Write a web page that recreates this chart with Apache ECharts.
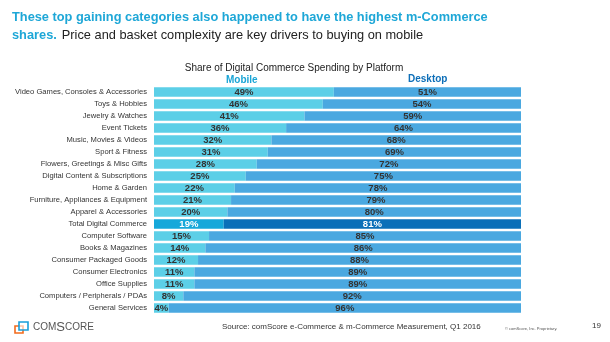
<!DOCTYPE html>
<html>
<head>
<meta charset="utf-8">
<script src="https://cdn.jsdelivr.net/npm/echarts@6/dist/echarts.min.js"></script>
<style>
html,body{margin:0;padding:0;background:#fff;}
#chart{width:610px;height:342px;}
</style>
</head>
<body>
<div id="chart"></div>
<script>
const categories = [
  "Video Games, Consoles & Accessories",
  "Toys & Hobbies",
  "Jewelry & Watches",
  "Event Tickets",
  "Music, Movies & Videos",
  "Sport & Fitness",
  "Flowers, Greetings & Misc Gifts",
  "Digital Content & Subscriptions",
  "Home & Garden",
  "Furniture, Appliances & Equipment",
  "Apparel & Accessories",
  "Total Digital Commerce",
  "Computer Software",
  "Books & Magazines",
  "Consumer Packaged Goods",
  "Consumer Electronics",
  "Office Supplies",
  "Computers / Peripherals / PDAs",
  "General Services"
];
const mobile = [49, 46, 41, 36, 32, 31, 28, 25, 22, 21, 20, 19, 15, 14, 12, 11, 11, 8, 4];
const desktop = [51, 54, 59, 64, 68, 69, 72, 75, 78, 79, 80, 81, 85, 86, 88, 89, 89, 92, 96];
const highlight = "Total Digital Commerce";

const chart = echarts.init(document.getElementById('chart'), null, {renderer: 'canvas'});

const font = 'Liberation Sans, Arial, sans-serif';

function build(values, hiColor, hiLabel) {
  return values.map((v, i) => {
    if (categories[i] === highlight) {
      return {value: v, itemStyle: {color: hiColor}, label: {color: hiLabel}};
    }
    return v;
  });
}

chart.setOption({
  animation: false,
  textStyle: {fontFamily: font},
  title: [
    {
      left: 7, top: 3,
      text: '{b|These top gaining categories also happened to have the highest m-Commerce}\n{b|shares.} {n|Price and basket complexity are key drivers to buying on mobile}',
      textStyle: {
        fontFamily: font,
        rich: {
          b: {fontSize: 12.8, fontWeight: 'bold', color: '#1ea7d7', fontFamily: font, lineHeight: 18},
          n: {fontSize: 12.8, fontWeight: 'normal', color: '#222', fontFamily: font, lineHeight: 18}
        }
      }
    },
    {
      left: 289, top: 58, textAlign: 'center',
      text: 'Share of Digital Commerce Spending by Platform',
      textStyle: {fontSize: 10, fontWeight: 'normal', color: '#222', fontFamily: font}
    }
  ],
  grid: {left: 154, right: 89, top: 86, height: 228, containLabel: false},
  xAxis: {
    type: 'value', min: 0, max: 100, show: false
  },
  yAxis: {
    type: 'category', data: categories, inverse: true,
    axisLine: {show: false}, axisTick: {show: false},
    axisLabel: {fontSize: 7.6, color: '#333', margin: 7, fontFamily: font}
  },
  series: [
    {
      name: 'Mobile', type: 'bar', stack: 'p', barWidth: 9.5,
      data: build(mobile, '#15a8da', '#ffffff'),
      itemStyle: {color: '#5ccfe7'},
      label: {show: true, position: 'inside', formatter: '{c}%', fontSize: 9.5, fontWeight: 'bold', color: '#333', fontFamily: font}
    },
    {
      name: 'Desktop', type: 'bar', stack: 'p', barWidth: 9.5,
      data: build(desktop, '#0a6fb8', '#ffffff'),
      itemStyle: {color: '#4aa8e0'},
      label: {show: true, position: 'inside', formatter: '{c}%', fontSize: 9.5, fontWeight: 'bold', color: '#333', fontFamily: font}
    }
  ],
  graphic: [
    {type: 'text', left: 226, top: 75, style: {text: 'Mobile', font: 'bold 10px ' + font, fill: '#1aa5d6'}},
    {type: 'text', left: 408, top: 74, style: {text: 'Desktop', font: 'bold 10px ' + font, fill: '#0e6fb8'}},
    {type: 'rect', shape: {x: 15, y: 326, width: 8, height: 7}, style: {fill: 'none', stroke: '#f26b1d', lineWidth: 1.6}},
    {type: 'rect', shape: {x: 19, y: 322, width: 9, height: 8}, style: {fill: 'rgba(255,255,255,0.6)', stroke: '#1a9fd9', lineWidth: 1.6}},
    {type: 'text', left: 33, top: 321, style: {
      text: '{s|COM}{l|S}{s|CORE}',
      rich: {
        s: {fontSize: 10, fill: '#555', fontFamily: font},
        l: {fontSize: 13, fill: '#555', fontFamily: font}
      }
    }},
    {type: 'text', left: 222, top: 323, style: {text: 'Source: comScore e-Commerce & m-Commerce Measurement, Q1 2016', font: '8px ' + font, fill: '#333'}},
    {type: 'text', left: 505, top: 327, style: {text: '\u00a9 comScore, Inc. Proprietary.', font: '4px ' + font, fill: '#555'}},
    {type: 'text', left: 592, top: 322, style: {text: '19', font: '8px ' + font, fill: '#333'}}
  ]
});
</script>
</body>
</html>
